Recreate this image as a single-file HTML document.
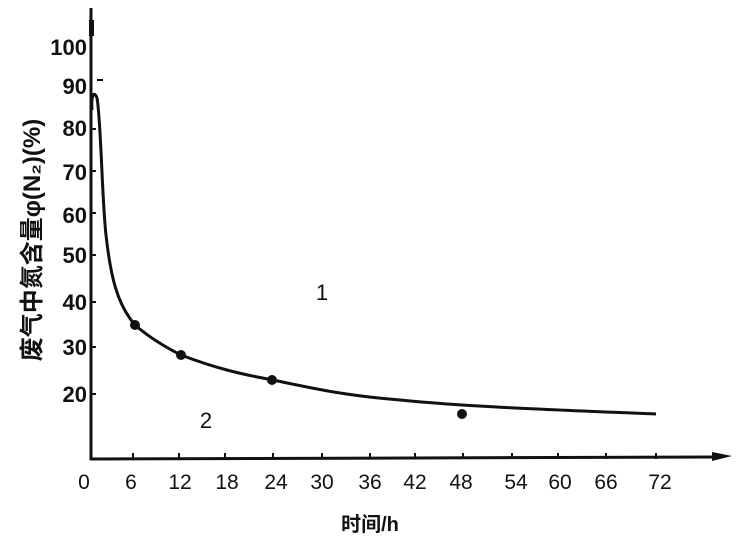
<!DOCTYPE html>
<html><head><meta charset="utf-8"><style>
body{margin:0;background:#fff;}
svg text{font-family:"Liberation Sans","Noto Sans CJK SC",sans-serif;fill:#111;}
</style></head><body>
<svg width="744" height="544" viewBox="0 0 744 544" xmlns="http://www.w3.org/2000/svg">
<rect width="744" height="544" fill="#fff"/>
<g stroke="#111" stroke-width="3" fill="none">
<line x1="91" y1="8" x2="91" y2="460"/>
<line x1="90" y1="459" x2="715" y2="457"/>
</g>
<polygon points="712,452 732,456 712,461" fill="#111"/>
<rect x="89" y="20" width="5" height="16" fill="#111"/>
<line x1="97" y1="80" x2="103" y2="80" stroke="#111" stroke-width="2"/>
<g stroke="#111" stroke-width="2">
<line x1="91" y1="129" x2="96" y2="129"/><line x1="91" y1="171" x2="96" y2="171"/>
<line x1="91" y1="213" x2="96" y2="213"/><line x1="91" y1="255" x2="96" y2="255"/>
<line x1="91" y1="302" x2="96" y2="302"/><line x1="91" y1="347" x2="96" y2="347"/>
<line x1="91" y1="394" x2="96" y2="394"/>
<line x1="133" y1="459" x2="133" y2="453"/><line x1="179" y1="459" x2="179" y2="453"/>
<line x1="225" y1="459" x2="225" y2="453"/><line x1="273" y1="459" x2="273" y2="453"/>
<line x1="322" y1="459" x2="322" y2="453"/><line x1="370" y1="459" x2="370" y2="453"/>
<line x1="415" y1="459" x2="415" y2="453"/><line x1="463" y1="459" x2="463" y2="453"/>
<line x1="512" y1="459" x2="512" y2="453"/><line x1="558" y1="459" x2="558" y2="453"/>
<line x1="606" y1="459" x2="606" y2="453"/><line x1="656" y1="459" x2="656" y2="453"/>
</g>
<path d="M92,110 C91,95 94,90 97,98 C101,120 102,200 106,235 C111,280 118,305 135,325 C150,338 165,347 181,355 C215,368 240,374 273,380 C320,390 350,396 400,400 C470,407 560,410 656,414" stroke="#111" stroke-width="3" fill="none"/>
<g fill="#111">
<circle cx="135" cy="325" r="5"/><circle cx="181" cy="355" r="5"/>
<circle cx="272" cy="380" r="5"/><circle cx="462" cy="414" r="5"/>
</g>
<g font-size="22" font-weight="bold" text-anchor="end">
<text x="87" y="55">100</text><text x="87" y="94">90</text><text x="87" y="136">80</text>
<text x="87" y="180">70</text><text x="87" y="223">60</text><text x="87" y="263">50</text>
<text x="87" y="310">40</text><text x="87" y="355">30</text><text x="87" y="402">20</text>
</g>
<g font-size="21" text-anchor="middle">
<text x="84" y="489">0</text><text x="131" y="489">6</text><text x="180" y="489">12</text>
<text x="227" y="489">18</text><text x="276" y="489">24</text><text x="322" y="489">30</text>
<text x="370" y="489">36</text><text x="415" y="489">42</text><text x="461" y="489">48</text>
<text x="516" y="489">54</text><text x="560" y="489">60</text><text x="606" y="489">66</text>
<text x="660" y="489">72</text>
</g>
<text x="322" y="300" font-size="22" font-family="Liberation Serif" text-anchor="middle">1</text>
<text x="206" y="428" font-size="22" font-family="Liberation Serif" text-anchor="middle">2</text>
<text x="370" y="531" font-size="20" font-weight="bold" text-anchor="middle">时间/h</text>
<text transform="translate(40,240) rotate(-90)" font-size="24" font-weight="bold" text-anchor="middle">废气中氮含量φ(N₂)(%)</text>
</svg>
</body></html>
